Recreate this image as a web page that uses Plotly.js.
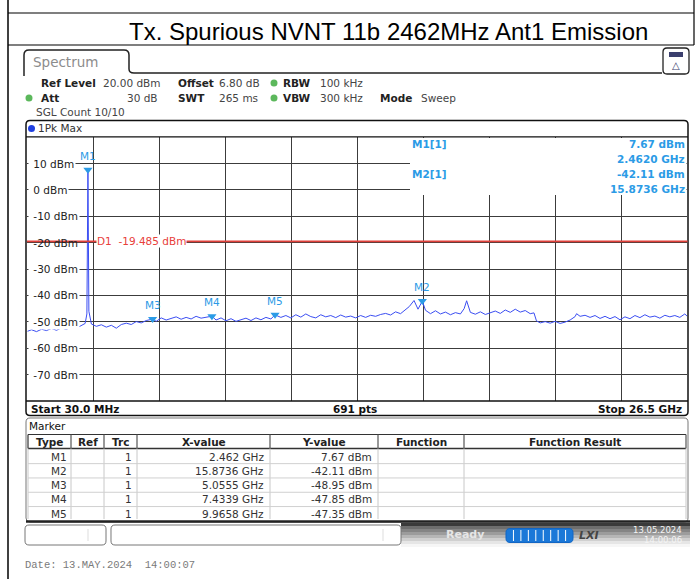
<!DOCTYPE html>
<html><head><meta charset="utf-8">
<script src="https://cdn.plot.ly/plotly-3.0.1.min.js"></script>
<style>html,body{margin:0;padding:0;background:#fff}#chart{width:696px;height:579px}</style>
</head><body><div id="chart"></div>
<script>
// ---- data ----
const freqGHz = [0.03,0.2,0.4,0.6,0.8,1.0,1.2,1.4,1.6,1.8,2.0,2.2,2.35,2.42,2.462,2.5,2.6,2.8,3.0,3.2,
 3.4,3.6,3.8,4.0,4.2,4.4,4.6,4.8,5.0555,5.2,5.4,5.6,5.8,6.0,6.2,6.4,6.6,6.8,7.0,7.2,
 7.4339,7.6,7.8,8.0,8.2,8.4,8.6,8.8,9.0,9.2,9.4,9.6,9.8,9.9658,10.2,10.4,10.6,10.8,11.0,11.2,
 11.4,11.6,11.8,12.0,12.2,12.4,12.6,12.8,13.0,13.2,13.4,13.6,13.8,14.0,14.2,14.4,14.6,14.8,15.0,15.2,
 15.35,15.54,15.7,15.8736,16.0,16.2,16.4,16.6,16.8,17.0,17.2,17.4,17.55,17.65,17.8,18.0,18.2,18.4,18.6,18.8,
 19.0,19.2,19.4,19.6,19.8,20.0,20.2,20.35,20.45,20.6,20.8,21.0,21.2,21.4,21.6,21.8,22.0,22.06,22.2,22.4,
 22.6,22.8,23.0,23.2,23.4,23.6,23.8,24.0,24.2,24.4,24.6,24.8,25.0,25.2,25.4,25.6,25.8,26.0,26.2,26.4,26.5];
const levelDbm = [-53.6,-53.0,-53.7,-52.8,-53.3,-52.5,-53.2,-52.3,-52.9,-51.8,-52.4,-51.4,-50.6,-47.0,7.67,-46.0,-50.8,-51.7,-51.1,-52.0,
 -51.3,-52.4,-51.0,-50.5,-51.0,-49.9,-50.4,-49.5,-48.95,-49.8,-48.5,-49.3,-48.6,-48.1,-49.0,-48.3,-48.9,-47.9,-48.6,-48.2,
 -47.85,-49.3,-48.5,-49.6,-48.8,-49.8,-49.2,-48.6,-49.5,-48.5,-49.2,-48.3,-48.9,-47.35,-48.3,-47.6,-48.5,-47.3,-48.2,-47.0,
 -48.0,-48.5,-47.3,-48.1,-47.6,-48.4,-47.4,-48.2,-47.8,-48.5,-47.6,-48.3,-47.5,-47.9,-47.2,-46.8,-47.4,-46.2,-46.9,-45.3,
 -44.2,-41.9,-45.2,-42.11,-45.6,-46.9,-45.8,-47.0,-46.3,-47.3,-46.5,-47.0,-45.0,-42.0,-46.4,-47.1,-46.2,-47.2,-46.4,-45.9,
 -46.8,-45.5,-46.4,-45.2,-46.3,-45.7,-46.9,-46.6,-49.6,-50.4,-49.9,-50.5,-49.8,-50.6,-50.1,-49.3,-48.0,-46.9,-47.9,-47.5,
 -48.3,-47.6,-48.7,-47.9,-48.8,-48.0,-49.2,-48.1,-48.8,-47.6,-48.4,-47.3,-48.2,-47.8,-48.6,-47.5,-48.1,-47.6,-48.3,-47.0,-47.9];

const markerNames = ['M1','M2','M3','M4','M5'];
const markerTrace = [1,1,1,1,1];
const markerFreqGHz = [2.462,15.8736,5.0555,7.4339,9.9658];
const markerLevelDbm = [7.67,-42.11,-48.95,-47.85,-47.35];
const markerXText = ['2.462 GHz','15.8736 GHz','5.0555 GHz','7.4339 GHz','9.9658 GHz'];
const tableHeaders = ['Type','Ref','Trc','X-value','Y-value','Function','Function Result'];

const yTickLevels = [10,0,-10,-20,-30,-40,-50,-60,-70];
const yTickLabels = ['10 dBm','0 dBm','-10 dBm','-20 dBm','-30 dBm','-40 dBm','-50 dBm','-60 dBm','-70 dBm'];
const displayLineDbm = -19.485;
const startFreqGHz = 0.03, stopFreqGHz = 26.5, refLevelDbm = 20, bottomLevelDbm = -80, sweepPoints = 691;

// ---- helpers (layout in pixels -> paper) ----
const W = 696, H = 579;
const X = p => p / W, Y = p => 1 - p / H;
const UI = 'DejaVu Sans';
const MK = '#2b9be6';
const shapes = [], ann = [];
function line(x0,y0,x1,y1,c,w){shapes.push({type:'line',xref:'paper',yref:'paper',x0:X(x0),y0:Y(y0),x1:X(x1),y1:Y(y1),line:{color:c||'#000',width:w||1},layer:'above'});}
function rect(x0,y0,x1,y1,fill,c,w){shapes.push({type:'rect',xref:'paper',yref:'paper',x0:X(x0),y0:Y(y0),x1:X(x1),y1:Y(y1),fillcolor:fill||'rgba(0,0,0,0)',line:{color:c||'rgba(0,0,0,0)',width:w||0},layer:'above'});}
function P(x,y){return X(x).toFixed(5)+','+Y(y).toFixed(5);}
function rr(x0,y0,x1,y1,r,c,w,fill){
  const p='M'+P(x0+r,y0)+' L'+P(x1-r,y0)+' Q'+P(x1,y0)+' '+P(x1,y0+r)+' L'+P(x1,y1-r)+' Q'+P(x1,y1)+' '+P(x1-r,y1)+
   ' L'+P(x0+r,y1)+' Q'+P(x0,y1)+' '+P(x0,y1-r)+' L'+P(x0,y0+r)+' Q'+P(x0,y0)+' '+P(x0+r,y0)+' Z';
  shapes.push({type:'path',xref:'paper',yref:'paper',path:p,fillcolor:fill||'rgba(0,0,0,0)',line:{color:c||'#000',width:w||1},layer:'above'});
}
function T(text,x,y,o){o=o||{};ann.push({text:text,x:X(x),y:Y(y),xref:'paper',yref:'paper',xanchor:o.xa||'left',yanchor:'middle',
  showarrow:false,font:{family:o.f||UI,size:o.s||10.5,color:o.c||'#222'},bgcolor:o.bg,borderpad:0});}

// outer document frame + title
line(8,0,8,579,'#000',1.5);
line(8,13,694,13,'#000',1.2);
line(8,45,694,45,'#000',1.2);
line(694,0,694,45,'#000',1.2);
T('Tx. Spurious NVNT 11b 2462MHz Ant1 Emission',388,31,{xa:'center',f:'Liberation Sans, Arial',s:24,c:'#000'});

// Spectrum tab
shapes.push({type:'path',xref:'paper',yref:'paper',layer:'above',line:{color:'#222',width:1.5},
  path:'M'+P(24,76)+' L'+P(24,55)+' Q'+P(24,50)+' '+P(29,50)+' L'+P(124,50)+' Q'+P(129,50)+' '+P(129,55)+' L'+P(129,69)+' Q'+P(129,73)+' '+P(134,73)+' L'+P(662,73)});
T('Spectrum',32,62,{s:13.5,c:'#8c8c8c'});
rr(663,48,689,74,4,'#222',1.3);
rect(669,52,683,57,'#3b3f6e');
T('△',676,66,{xa:'center',s:10,c:'#3b3f6e'});

// instrument settings
const dot=(x,y,c)=>shapes.push({type:'circle',xref:'paper',yref:'paper',x0:X(x-3.5),x1:X(x+3.5),y0:Y(y-3.5),y1:Y(y+3.5),fillcolor:c,line:{width:0},layer:'above'});
T('<b>Ref Level</b>',40,83);  T('20.00 dBm',102,83,{c:'#444'});
T('<b>Offset</b>',177,83);    T('6.80 dB',218,83,{c:'#444'});
dot(274,83,'#5cb85c'); T('<b>RBW</b>',282,83); T('100 kHz',319,83,{c:'#444'});
dot(29,98,'#5cb85c'); T('<b>Att</b>',40,98); T('30 dB',159,98,{xa:'right',c:'#444'});
T('<b>SWT</b>',177,98); T('265 ms',218,98,{c:'#444'});
dot(274,98,'#5cb85c'); T('<b>VBW</b>',282,98); T('300 kHz',319,98,{c:'#444'});
T('<b>Mode</b>',379,98); T('Sweep',420,98,{c:'#444'});
T('SGL Count 10/10',35,112,{c:'#444'});

// trace window
rr(26,120.5,688,415.5,4,'#111',1.5);
line(26,136.8,688,136.8,'#111',1.3);
line(26,401,688,401,'#111',1.5);
dot(31.5,128.5,'#1f3fe0');
T('1Pk Max',37,128.5,{c:'#333'});
T('<b>Start '+(startFreqGHz*1000).toFixed(1)+' MHz</b>',30,408.5,{c:'#111'});
T('<b>'+sweepPoints+' pts</b>',355,408.5,{xa:'center',c:'#111'});
T('<b>Stop '+stopFreqGHz.toFixed(1)+' GHz</b>',683,408.5,{xa:'right',c:'#111'});

// marker info box (top right)
rect(410,138,686.5,195,'#fff');
[0,1].forEach((i,k)=>{
  T('<b>'+markerNames[i]+'['+markerTrace[i]+']</b>',411,144+k*29.5,{c:MK});
  T('<b>'+markerLevelDbm[i].toFixed(2)+' dBm</b>',686,144+k*29.5,{xa:'right',c:MK});
  T('<b>'+markerFreqGHz[i].toFixed(4)+' GHz</b>',686,159+k*29.5,{xa:'right',c:MK});
});

// display line D1
shapes.push({type:'line',xref:'paper',yref:'y',x0:X(27),x1:X(687.5),y0:displayLineDbm,y1:displayLineDbm,line:{color:'#e0403a',width:1.6},layer:'above'});
ann.push({text:'D1  '+displayLineDbm.toFixed(3)+' dBm',x:X(96),xref:'paper',y:displayLineDbm,yref:'y',xanchor:'left',yanchor:'middle',showarrow:false,
  font:{family:UI,size:10.5,color:'#e8403a'},bgcolor:'#fff',borderpad:0});

// y tick labels inside the plot (leading no-break space masks the gridline stub)
yTickLevels.forEach((v,i)=>ann.push({text:'\u00a0'+yTickLabels[i],x:X(28.2),xref:'paper',y:v,yref:'y',xanchor:'left',yanchor:'middle',showarrow:false,
  font:{family:UI,size:10.5,color:'#222'},bgcolor:(v===-20?undefined:'#fff'),borderpad:1}));

// marker labels on trace
markerNames.forEach((n,i)=>{
  ann.push({text:n,x:markerFreqGHz[i],y:markerLevelDbm[i],xref:'x',yref:'y',xanchor:'center',yanchor:'bottom',yshift:6,showarrow:false,font:{family:UI,size:10.5,color:MK}});
});

// marker table
rr(26,418,688,522,4,'#777',1);
line(26,521.5,690,521.5,'#222',2.5);
T('Marker',28,426,{c:'#111'});
const colX=[28,71,104,137,270,378,464,686];
line(28,434.5,686,434.5,'#333',1);
line(28,448.5,686,448.5,'#333',1.6);
colX.forEach((x,i)=>{ line(x,434.5,x,448.5,(i===0?'#333':'#555'),1.2); line(x,448.5,x,519,'#c8c8c8',1); });
const rowY=[456.5,470.8,485.1,499.4,513.7];
rowY.forEach((y,i)=>{ if(i>0) line(28,y-7.15,686,y-7.15,'#d0d0d0',1); });
tableHeaders.forEach((h,i)=>T('<b>'+h+'</b>',(colX[i]+colX[i+1])/2,441.5,{xa:'center',c:'#222'}));
markerNames.forEach((n,i)=>{
  T(n,68,rowY[i],{xa:'right',c:'#333'});
  T(String(markerTrace[i]),133,rowY[i],{xa:'right',c:'#333'});
  T(markerXText[i],265,rowY[i],{xa:'right',c:'#333'});
  T(markerLevelDbm[i].toFixed(2)+' dBm',373,rowY[i],{xa:'right',c:'#333'});
});

// status bar
const grad=['#3a3a3a','#6e6e6e','#858585','#9c9c9c','#b6b6b6','#d0d0d0','#e6e6e6','#f6f6f6'];
grad.forEach((c,i)=>rect(401,523+i*3,690,526+i*3,c));
rr(25,525,106,545,4,'#777',1); line(88,529,88,541,'#ddd',1);
rr(111,525,401,545,4,'#777',1); line(383,529,383,541,'#ddd',1);
T('<b>Ready</b>',465,534,{xa:'center',s:11,c:'#e6e6e6'});
rr(506,528.5,573,542.5,4,'#1266c4',1,'#1b78d8');
for(let k=1;k<9;k++) line(506+k*7.45,530,506+k*7.45,541,'#ffffff',1);
T('<b><i>LXI</i></b>',589,535,{xa:'center',s:11,c:'#444'});
T('13.05.2024',683,530,{xa:'right',s:8.5,c:'#f4f4f4'});
T('14:00:06',683,540,{xa:'right',s:8.5,c:'#f4f4f4'});

// footer date
T('Date: 13.MAY.2024  14:00:07',24,565,{f:'Liberation Mono, Courier New',s:10.5,c:'#7a7a7a'});

const trace = {x:freqGHz,y:levelDbm,type:'scatter',mode:'lines',line:{color:'#3b4ef2',width:1},hoverinfo:'skip',showlegend:false};
const markerPts = {x:markerFreqGHz,y:markerLevelDbm,type:'scatter',mode:'markers',
  marker:{symbol:'triangle-down',size:8,color:MK,line:{width:0}},hoverinfo:'skip',showlegend:false,cliponaxis:false};

const layout = {
  width:W,height:H,margin:{l:0,r:0,t:0,b:0},paper_bgcolor:'#fff',plot_bgcolor:'#fff',showlegend:false,
  xaxis:{domain:[X(27.3),X(687.3)],range:[startFreqGHz,stopFreqGHz],tick0:startFreqGHz,dtick:(stopFreqGHz-startFreqGHz)/10,
    showticklabels:false,ticks:'',showgrid:true,gridcolor:'#3c3c3c',gridwidth:1,zeroline:false,showline:false,fixedrange:true},
  yaxis:{domain:[Y(401),Y(137.2)],range:[bottomLevelDbm,refLevelDbm],dtick:10,
    showticklabels:false,ticks:'',showgrid:true,gridcolor:'#3c3c3c',gridwidth:1,zeroline:false,showline:false,fixedrange:true},
  shapes:shapes,annotations:ann
};
Plotly.newPlot('chart',[trace,markerPts],layout,{staticPlot:true,displayModeBar:false});
</script></body></html>
